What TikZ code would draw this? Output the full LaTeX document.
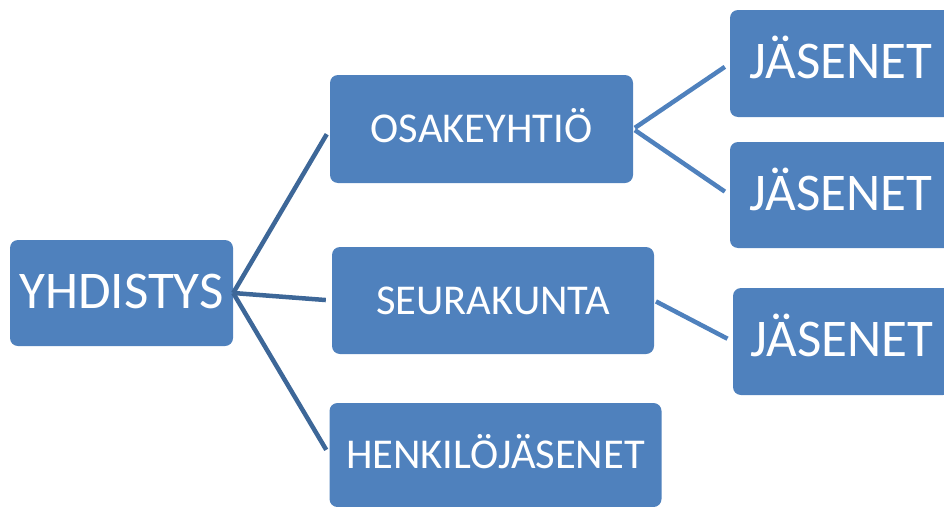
\documentclass[tikz,border=0pt]{standalone}
\usepackage{fontspec}
\setmainfont{Carlito}
\usepackage{xcolor}
\usepackage{tikz}

\definecolor{boxblue}{HTML}{4F81BD}
\definecolor{linkblue}{HTML}{3D6798}

\begin{document}
\begin{tikzpicture}[
    x=1pt, y=-1pt,
    box/.style={rectangle, rounded corners=8pt, fill=boxblue, text=white,
                inner sep=0pt, align=center, text depth=0pt},
    bigbox/.style={box, font=\fontsize{53}{60}\selectfont, text height=34pt, text depth=4pt},
    midbox/.style={box, font=\fontsize{42.5}{48}\selectfont, text height=27.4pt},
    link/.style={line width=4.5pt, linkblue, shorten >=6pt},
    sublink/.style={line width=4.5pt, boxblue, shorten <=2pt, shorten >=6pt}
]
    \useasboundingbox (0,0) rectangle (944,506);
    \clip (0,0) rectangle (944,506);

    % Root
    \node[bigbox, minimum width=223pt, minimum height=106pt] (yhd) at (121.5, 293) {YHDISTYS};

    % Members of the association
    \node[midbox, minimum width=303pt, minimum height=108pt] (oy) at (481.5, 129) {OSAKEYHTIÖ};
    \node[midbox, minimum width=322pt, minimum height=107pt] (srk) at (493, 300.5) {SEURAKUNTA};
    \node[midbox, minimum width=332pt, minimum height=104pt] (henk) at (495.5, 455) {HENKILÖJÄSENET};

    % Their members
    \node[bigbox, minimum width=222pt, minimum height=107pt] (jas1) at (841, 63.5) {JÄSENET};
    \node[bigbox, minimum width=222pt, minimum height=106pt] (jas2) at (841, 195) {JÄSENET};
    \node[bigbox, minimum width=218pt, minimum height=107pt] (jas3) at (842, 341.5) {JÄSENET};

    % Connectors
    \draw[link] (yhd.east) -- (oy.west);
    \draw[link] (yhd.east) -- (srk.west);
    \draw[link] (yhd.east) -- (henk.west);
    \draw[sublink] (oy.east) -- (jas1.west);
    \draw[sublink] (oy.east) -- (jas2.west);
    \draw[sublink] (srk.east) -- (jas3.west);
\end{tikzpicture}
\end{document}
